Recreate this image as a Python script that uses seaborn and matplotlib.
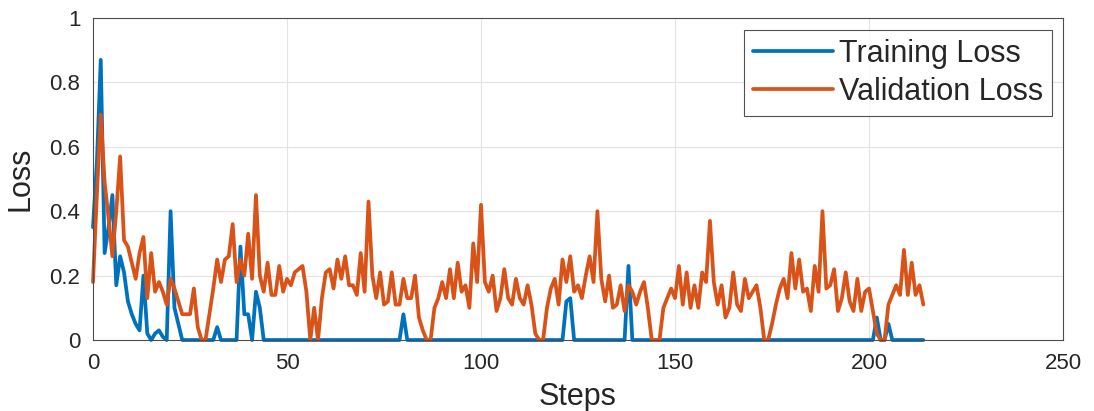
import numpy as np
import pandas as pd
import matplotlib
matplotlib.use("Agg")
import matplotlib.pyplot as plt
import seaborn as sns

# values (steps 0..214)
train_loss = [
    0.35, 0.55, 0.87, 0.27, 0.35, 0.45, 0.17, 0.26, 0.21, 0.12,
    0.08, 0.05, 0.03, 0.20, 0.02, 0.00, 0.02, 0.03, 0.01, 0.00,
    0.40, 0.10, 0.05, 0.00, 0.00, 0.00, 0.00, 0.00, 0.00, 0.00,
    0.00, 0.00, 0.04, 0.00, 0.00, 0.00, 0.00, 0.00, 0.29, 0.08,
    0.08, 0.00, 0.15, 0.10, 0.00,
] + [0.00] * 35 + [0.08] + [0.00] * 41 + [0.12, 0.13] + [0.00] * 14 + [0.23] + [0.00] * 63 + [0.07, 0.00, 0.00, 0.05] + [0.00] * 9

val_loss = [
    0.18, 0.45, 0.70, 0.49, 0.38, 0.26, 0.40, 0.57, 0.31, 0.29,
    0.24, 0.19, 0.27, 0.32, 0.13, 0.27, 0.15, 0.18, 0.15, 0.11,
    0.19, 0.16, 0.12, 0.08, 0.08, 0.08, 0.16, 0.04, 0.00, 0.00,
    0.08, 0.16, 0.25, 0.18, 0.25, 0.26, 0.36, 0.18, 0.25, 0.20,
    0.33, 0.19, 0.45, 0.20, 0.15, 0.24, 0.14, 0.14, 0.23, 0.15,
    0.19, 0.17, 0.21, 0.22, 0.23, 0.15, 0.00, 0.10, 0.00, 0.13,
    0.21, 0.22, 0.16, 0.25, 0.19, 0.26, 0.17, 0.17, 0.14, 0.27,
    0.15, 0.43, 0.20, 0.13, 0.21, 0.11, 0.12, 0.21, 0.11, 0.11,
    0.19, 0.13, 0.13, 0.20, 0.07, 0.03, 0.00, 0.00, 0.10, 0.13,
    0.18, 0.13, 0.22, 0.13, 0.24, 0.15, 0.17, 0.10, 0.30, 0.18,
    0.42, 0.18, 0.15, 0.20, 0.09, 0.13, 0.22, 0.13, 0.11, 0.19,
    0.13, 0.11, 0.17, 0.11, 0.02, 0.00, 0.00, 0.10, 0.16, 0.19,
    0.11, 0.25, 0.18, 0.26, 0.15, 0.17, 0.13, 0.20, 0.26, 0.18,
    0.40, 0.19, 0.12, 0.20, 0.10, 0.11, 0.17, 0.09, 0.17, 0.15,
    0.11, 0.15, 0.18, 0.10, 0.00, 0.00, 0.00, 0.10, 0.13, 0.16,
    0.13, 0.23, 0.11, 0.21, 0.10, 0.17, 0.10, 0.21, 0.18, 0.37,
    0.18, 0.11, 0.17, 0.07, 0.10, 0.21, 0.11, 0.09, 0.19, 0.13,
    0.15, 0.17, 0.10, 0.00, 0.00, 0.05, 0.11, 0.16, 0.19, 0.13,
    0.27, 0.16, 0.25, 0.15, 0.16, 0.09, 0.23, 0.15, 0.40, 0.16,
    0.17, 0.22, 0.09, 0.13, 0.21, 0.12, 0.09, 0.19, 0.09, 0.15,
    0.16, 0.09, 0.02, 0.00, 0.00, 0.11, 0.14, 0.17, 0.14, 0.28,
    0.14, 0.24, 0.14, 0.17, 0.11,
]

steps = np.arange(len(val_loss))
train_steps = np.arange(len(train_loss))

df = pd.concat([
    pd.DataFrame({"Steps": train_steps, "Loss": train_loss, "series": "Training Loss"}),
    pd.DataFrame({"Steps": steps, "Loss": val_loss, "series": "Validation Loss"}),
])

sns.set_style("white")
plt.rcParams['font.family'] = ['Liberation Sans', 'DejaVu Sans']

fig = plt.figure(figsize=(10.94, 4.11), dpi=100)
ax = fig.add_axes([0.085, 0.1727, 0.8867, 0.7835])

sns.lineplot(data=df, x="Steps", y="Loss", hue="series",
             palette={"Training Loss": "#0072BD", "Validation Loss": "#D95319"},
             linewidth=2.7, ax=ax)
for line in ax.get_lines():
    line.set_clip_on(False)
    line.set_solid_joinstyle("round")

ax.set_xlim(0, 250)
ax.set_ylim(0, 1)
ax.set_xticks([0, 50, 100, 150, 200, 250])
ax.set_yticks([0, 0.2, 0.4, 0.6, 0.8, 1])
ax.set_yticklabels(["0", "0.2", "0.4", "0.6", "0.8", "1"])
ax.tick_params(direction="in", labelsize=16, colors="#262626", length=5, width=0.8)
ax.tick_params(axis="x", pad=9)
ax.tick_params(axis="y", pad=9)
ax.grid(True, color="#e3e3e3", linewidth=0.8)
for s in ax.spines.values():
    s.set_color("#4d4d4d")
    s.set_linewidth(0.8)
ax.set_xlabel("Steps", fontsize=22, color="#262626", labelpad=6)
ax.set_ylabel("Loss", fontsize=22, color="#262626", labelpad=10)

leg = ax.legend(loc="upper right", fontsize=22, frameon=True, fancybox=False,
                handlelength=2.6, handletextpad=0.2, borderpad=0.3, labelspacing=0.25,
                borderaxespad=0.3, bbox_to_anchor=(0.998, 0.992))
leg.get_frame().set_edgecolor("#262626")
leg.get_frame().set_linewidth(0.8)
for line in leg.get_lines():
    line.set_linewidth(2.7)

fig.savefig("out.png", dpi=100)
